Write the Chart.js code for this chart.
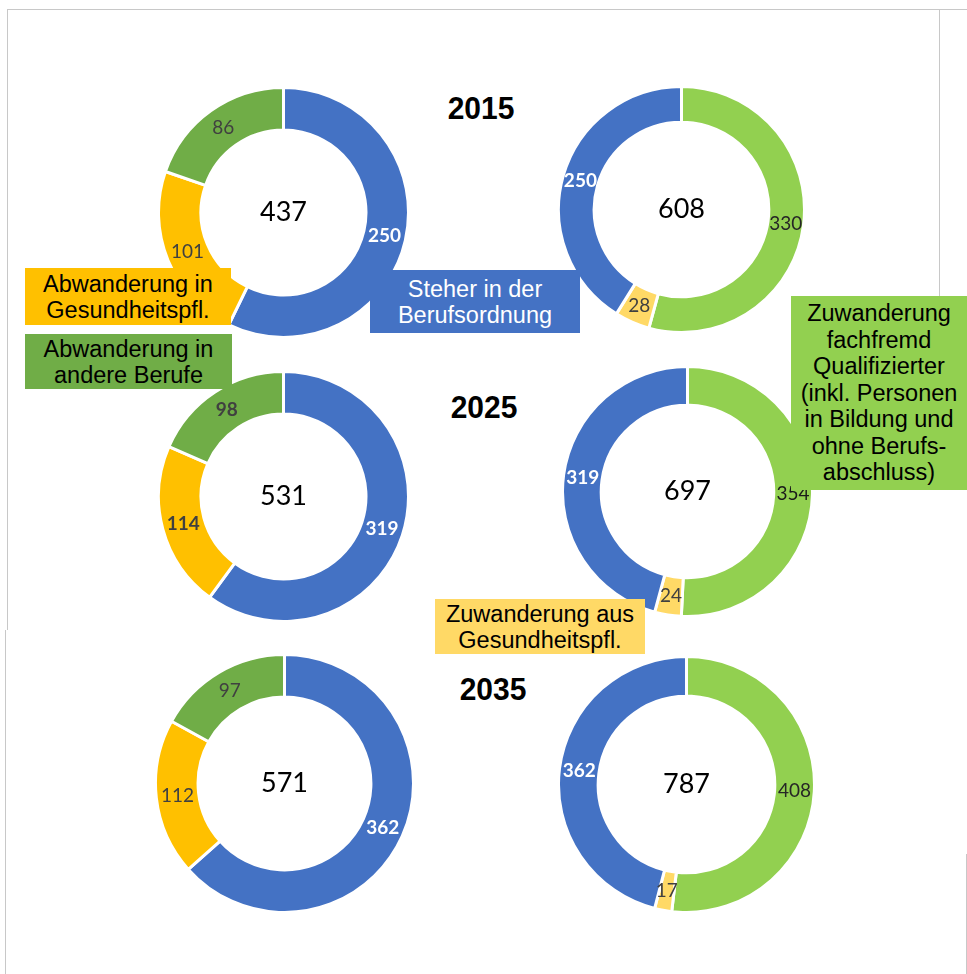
<!DOCTYPE html>
<html><head><meta charset="utf-8">
<script src="https://cdn.jsdelivr.net/npm/chart.js@4.4.1/dist/chart.umd.min.js"></script>
<style>
body{margin:0;width:967px;height:974px;position:relative;background:#fff;overflow:hidden;font-family:"Liberation Sans",Arial,sans-serif}
canvas{position:absolute}
.box{position:absolute;text-align:center;font-size:23.5px;line-height:26px;display:flex;flex-direction:column;justify-content:center;align-items:center;color:#000;z-index:2;white-space:nowrap}
.year{position:absolute;font-weight:bold;font-size:30px;transform:translate(-50%,-50%) scaleY(1.05);z-index:2}
.ln{position:absolute;background:#c8c8c8;z-index:3}
</style></head>
<body>
<div class="ln" style="left:7px;top:9px;width:960px;height:1px"></div>
<div class="ln" style="left:7px;top:9px;width:1px;height:621px"></div>
<div class="ln" style="left:5px;top:630px;width:1px;height:344px"></div>
<div class="ln" style="left:939px;top:9px;width:1px;height:287px"></div>
<div class="ln" style="left:966px;top:854px;width:1px;height:120px"></div>

<div class="year" id="y0" style="left:481px;top:108px"></div>
<div class="year" id="y1" style="left:484px;top:407px"></div>
<div class="year" id="y2" style="left:493px;top:689px"></div>

<div class="box" style="left:25px;top:268px;width:206px;height:57px;background:#FFC000"><span>Abwanderung in</span><span>Gesundheitspfl.</span></div>
<div class="box" style="left:25px;top:334px;width:207px;height:55px;background:#70AD47"><span>Abwanderung in</span><span>andere Berufe</span></div>
<div class="box" style="left:370px;top:270px;width:210px;height:63px;background:#4472C4;color:#fff"><span>Steher in der</span><span>Berufsordnung</span></div>
<div class="box" style="left:791px;top:296px;width:176px;height:194px;background:#92D050;line-height:26.5px"><span>Zuwanderung</span><span>fachfremd</span><span>Qualifizierter</span><span>(inkl. Personen</span><span>in Bildung und</span><span>ohne Berufs-</span><span>abschluss)</span></div>
<div class="box" style="left:435px;top:599px;width:210px;height:55px;background:#FFD966"><span>Zuwanderung aus</span><span>Gesundheitspfl.</span></div>

<script>
// ---- data ----
const years = ['2015', '2025', '2035'];
const leftCategories = ['Steher in der Berufsordnung', 'Abwanderung in Gesundheitspfl.', 'Abwanderung in andere Berufe'];
const rightCategories = ['Zuwanderung fachfremd Qualifizierter', 'Zuwanderung aus Gesundheitspfl.', 'Steher in der Berufsordnung'];
const steher = [250, 319, 362];
const abwGesundheit = [101, 114, 112];
const abwAndere = [86, 98, 97];
const zuwFachfremd = [330, 354, 408];
const zuwGesundheit = [28, 24, 17];

// ---- styles / layout ----
const leftColors = ['#4472C4', '#FFC000', '#70AD47'];
const rightColors = ['#92D050', '#FFD966', '#4472C4'];
const BW = 3;
const layout = [
  {cx:283, cy:212, r:125, cut:66, side:'L', yr:0, bold:[true,false,false], lc:['#fff','#404040','#404040']},
  {cx:681, cy:209, r:123, cut:71, side:'R', yr:0, bold:[false,false,true], lc:['#262626','#404040','#fff']},
  {cx:283, cy:496, r:125, cut:66, side:'L', yr:1, bold:[true,true,true], lc:['#fff','#404040','#404040']},
  {cx:687, cy:491, r:125, cut:69, side:'R', yr:1, bold:[false,false,true], lc:['#1a1a1a','#404040','#fff']},
  {cx:284, cy:783, r:129, cut:67, side:'L', yr:2, bold:[true,false,false], lc:['#fff','#404040','#404040']},
  {cx:686, cy:784, r:128, cut:69, side:'R', yr:2, bold:[false,false,true], lc:['#262626','#404040','#fff']}
];

years.forEach((y,i)=>{document.getElementById('y'+i).textContent=y;});

const labelPlugin = {
  id: 'donutLabels',
  afterDatasetsDraw(chart, args, opts) {
    const ctx = chart.ctx;
    const meta = chart.getDatasetMeta(0);
    const data = chart.data.datasets[0].data;
    ctx.save();
    ctx.textAlign = 'center';
    ctx.textBaseline = 'middle';
    meta.data.forEach((arc, i) => {
      const p = arc.tooltipPosition();
      ctx.font = (opts.bold[i] ? 'bold ' : '') + '19px Lato';
      ctx.fillStyle = opts.colors[i];
      ctx.fillText(String(data[i]), p.x, p.y);
    });
    const a = meta.data[0];
    const total = data.reduce((s, v) => s + v, 0);
    ctx.font = '27px Lato';
    ctx.fillStyle = '#000';
    ctx.fillText(String(total), a.x, a.y);
    ctx.restore();
  }
};

layout.forEach(L => {
  const cv = document.createElement('canvas');
  const size = 2 * L.r + BW;
  cv.width = size; cv.height = size;
  cv.style.left = (L.cx - size / 2) + 'px';
  cv.style.top = (L.cy - size / 2) + 'px';
  document.body.appendChild(cv);
  const i = L.yr;
  const isL = L.side === 'L';
  new Chart(cv, {
    type: 'doughnut',
    data: {
      labels: isL ? leftCategories : rightCategories,
      datasets: [{
        data: isL ? [steher[i], abwGesundheit[i], abwAndere[i]] : [zuwFachfremd[i], zuwGesundheit[i], steher[i]],
        backgroundColor: isL ? leftColors : rightColors,
        borderColor: '#fff',
        borderWidth: BW
      }]
    },
    options: {
      responsive: false,
      animation: false,
      cutout: L.cut + '%',
      layout: {padding: 0},
      plugins: {
        legend: {display: false},
        tooltip: {enabled: false},
        donutLabels: {bold: L.bold, colors: L.lc}
      }
    },
    plugins: [labelPlugin]
  });
});
</script>
</body></html>
